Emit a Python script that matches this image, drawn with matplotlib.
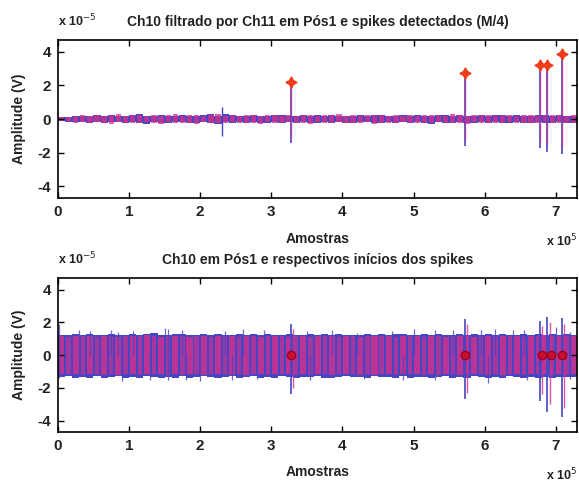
import numpy as np
import matplotlib
matplotlib.use("Agg")
import matplotlib.pyplot as plt

plt.rcParams['font.family'] = ['Liberation Sans', 'DejaVu Sans']
plt.rcParams['axes.unicode_minus'] = False

# envelope of each 1e4-sample segment (units of 1e-5 V), 73 segments
top_blue_hi = [0.12, 0.15, 0.18, 0.2, 0.16, 0.22, 0.18, 0.25, 0.2, 0.17, 0.22, 0.3, 0.18, 0.2, 0.24,
               0.19, 0.21, 0.26, 0.2, 0.18, 0.23, 0.28, 0.2, 0.3, 0.22, 0.18, 0.2, 0.25, 0.21, 0.19,
               0.22, 0.27, 0.2, 0.18, 0.24, 0.2, 0.22, 0.19, 0.25, 0.2, 0.18, 0.21, 0.24, 0.2, 0.26,
               0.22, 0.19, 0.2, 0.23, 0.21, 0.25, 0.2, 0.18, 0.22, 0.24, 0.2, 0.27, 0.21, 0.19, 0.23,
               0.2, 0.25, 0.22, 0.2, 0.24, 0.21, 0.19, 0.22, 0.26, 0.2, 0.23, 0.21, 0.2]
top_blue_lo = [-0.12, -0.16, -0.2, -0.18, -0.22, -0.17, -0.24, -0.2, -0.18, -0.25, -0.2, -0.22, -0.28, -0.19, -0.21,
               -0.24, -0.18, -0.2, -0.26, -0.21, -0.19, -0.23, -0.27, -0.2, -0.22, -0.18, -0.24, -0.2, -0.21, -0.25,
               -0.19, -0.22, -0.2, -0.26, -0.18, -0.23, -0.21, -0.2, -0.24, -0.19, -0.22, -0.25, -0.2, -0.18, -0.22,
               -0.26, -0.2, -0.23, -0.19, -0.24, -0.2, -0.22, -0.27, -0.19, -0.21, -0.24, -0.2, -0.22, -0.25, -0.19,
               -0.23, -0.2, -0.26, -0.21, -0.19, -0.24, -0.22, -0.2, -0.23, -0.25, -0.2, -0.22, -0.21]
top_mag_hi = [0.1, 0.12, 0.2, 0.22, 0.18, 0.26, 0.2, 0.22, 0.28, 0.19, 0.24, 0.22, 0.2, 0.27, 0.21,
              0.23, 0.3, 0.2, 0.24, 0.26, 0.2, 0.22, 0.28, 0.21, 0.25, 0.2, 0.23, 0.27, 0.2, 0.22,
              0.26, 0.21, 0.24, 0.2, 0.27, 0.22, 0.2, 0.25, 0.22, 0.28, 0.2, 0.23, 0.21, 0.26, 0.22,
              0.24, 0.2, 0.27, 0.21, 0.23, 0.2, 0.26, 0.22, 0.24, 0.2, 0.28, 0.22, 0.2, 0.25, 0.22,
              0.27, 0.2, 0.24, 0.26, 0.2, 0.23, 0.25, 0.21, 0.24, 0.22, 0.26, 0.2, 0.22]
top_mag_lo = [-0.1, -0.14, -0.22, -0.2, -0.25, -0.2, -0.22, -0.27, -0.2, -0.24, -0.22, -0.26, -0.2, -0.23, -0.28,
              -0.2, -0.22, -0.25, -0.21, -0.27, -0.2, -0.24, -0.22, -0.26, -0.2, -0.23, -0.21, -0.25, -0.28, -0.2,
              -0.22, -0.26, -0.2, -0.24, -0.21, -0.27, -0.2, -0.23, -0.25, -0.2, -0.26, -0.22, -0.24, -0.2, -0.27,
              -0.21, -0.23, -0.26, -0.2, -0.22, -0.25, -0.21, -0.24, -0.2, -0.26, -0.22, -0.23, -0.27, -0.2, -0.24,
              -0.21, -0.25, -0.22, -0.2, -0.26, -0.23, -0.21, -0.24, -0.2, -0.25, -0.22, -0.24, -0.21]

bot_blue_hi = [1.25, 1.2, 1.3, 1.22, 1.28, 1.2, 1.25, 1.3, 1.22, 1.24, 1.27, 1.2, 1.3, 1.35, 1.25,
               1.22, 1.3, 1.28, 1.2, 1.24, 1.27, 1.22, 1.3, 1.25, 1.2, 1.28, 1.24, 1.3, 1.22, 1.26,
               1.2, 1.25, 1.28, 1.22, 1.24, 1.3, 1.2, 1.26, 1.23, 1.28, 1.2, 1.25, 1.22, 1.27, 1.24,
               1.3, 1.21, 1.26, 1.28, 1.22, 1.25, 1.3, 1.2, 1.27, 1.24, 1.22, 1.28, 1.25, 1.3, 1.22,
               1.26, 1.24, 1.28, 1.2, 1.25, 1.3, 1.22, 1.27, 1.25, 1.3, 1.24, 1.28, 1.22]
bot_blue_lo = [-1.35, -1.3, -1.4, -1.32, -1.38, -1.3, -1.42, -1.35, -1.3, -1.38, -1.33, -1.4, -1.3, -1.36, -1.42,
               -1.32, -1.38, -1.3, -1.4, -1.35, -1.3, -1.37, -1.42, -1.33, -1.3, -1.38, -1.35, -1.3, -1.4, -1.34,
               -1.38, -1.3, -1.36, -1.4, -1.32, -1.35, -1.3, -1.38, -1.42, -1.33, -1.3, -1.37, -1.35, -1.4, -1.3,
               -1.36, -1.33, -1.4, -1.3, -1.38, -1.35, -1.32, -1.4, -1.36, -1.3, -1.38, -1.34, -1.4, -1.3, -1.37,
               -1.42, -1.33, -1.38, -1.3, -1.36, -1.4, -1.32, -1.38, -1.35, -1.4, -1.33, -1.37, -1.35]
bot_mag_hi = [1.15, 1.12, 1.18, 1.14, 1.16, 1.12, 1.18, 1.15, 1.13, 1.17, 1.14, 1.16, 1.2, 1.15, 1.12,
              1.17, 1.14, 1.18, 1.13, 1.16, 1.15, 1.12, 1.18, 1.14, 1.16, 1.13, 1.17, 1.15, 1.12, 1.18,
              1.14, 1.16, 1.12, 1.17, 1.15, 1.13, 1.18, 1.14, 1.16, 1.12, 1.17, 1.15, 1.13, 1.18, 1.14,
              1.16, 1.15, 1.12, 1.17, 1.14, 1.18, 1.13, 1.16, 1.15, 1.12, 1.18, 1.14, 1.16, 1.13, 1.17,
              1.15, 1.12, 1.18, 1.14, 1.16, 1.13, 1.17, 1.15, 1.2, 1.14, 1.18, 1.15, 1.16]
bot_mag_lo = [-1.15, -1.18, -1.13, -1.2, -1.16, -1.14, -1.19, -1.15, -1.22, -1.17, -1.14, -1.2, -1.16, -1.18, -1.13,
              -1.19, -1.15, -1.21, -1.17, -1.14, -1.2, -1.16, -1.18, -1.13, -1.19, -1.15, -1.22, -1.17, -1.14, -1.2,
              -1.16, -1.18, -1.13, -1.19, -1.15, -1.21, -1.17, -1.14, -1.2, -1.16, -1.18, -1.13, -1.19, -1.15, -1.22,
              -1.17, -1.14, -1.2, -1.16, -1.18, -1.13, -1.19, -1.15, -1.21, -1.17, -1.14, -1.2, -1.16, -1.18, -1.13,
              -1.19, -1.15, -1.22, -1.17, -1.14, -1.2, -1.16, -1.18, -1.13, -1.19, -1.15, -1.21, -1.17]

# ragged excursions of the raw signal (x in 1e5 samples, amplitude in 1e-5 V)
burr_x = [0.02, 0.3, 0.45, 0.75, 0.85, 1.05, 1.5, 1.55, 1.75, 2.35, 2.6, 2.9, 3.5, 3.85, 4.2, 4.7,
          5.0, 5.3, 5.55, 5.95, 6.15, 6.4, 6.55, 7.0, 7.2]
burr_hi = [1.9, 1.5, 1.45, 1.55, 1.4, 1.45, 1.65, 1.6, 1.5, 1.45, 1.6, 1.5, 1.45, 1.5, 1.35, 1.45,
           1.6, 1.55, 1.5, 1.55, 1.6, 1.55, 1.5, 1.7, 1.4]
burr_lo_x = [0.02, 0.9, 1.3, 1.55, 1.8, 2.0, 2.45, 2.8, 3.55, 4.3, 4.85, 5.3, 6.05, 6.6, 7.2]
burr_lo = [-1.4, -1.6, -1.5, -1.55, -1.5, -1.6, -1.55, -1.45, -1.5, -1.45, -1.5, -1.55, -1.7, -1.5, -1.45]

# detected spikes
spike_x = [3.28, 5.72, 6.78, 6.88, 7.08]
spike_peak_f = [2.2, 2.75, 3.2, 3.2, 3.85]
spike_trough_f = [-1.4, -1.6, -1.7, -1.95, -2.05]
spike_peak_raw = [1.9, 2.2, 2.1, 2.35, 2.25]
spike_trough_raw = [-2.4, -2.7, -2.8, -3.5, -3.8]
extra_x = [2.3]
extra_peak = [0.7]
extra_trough = [-1.0]
onset_x = [3.28, 5.72, 6.8, 6.93, 7.08]

blue = '#4646c4'
mag = '#d8308a'
dark = '#222222'
seg_w = 0.1
seg_x = np.arange(len(bot_blue_hi)) * seg_w + seg_w / 2

fig = plt.figure(figsize=(5.79, 4.87), dpi=100)
ax1 = fig.add_axes([0.100, 0.593, 0.897, 0.325])
ax2 = fig.add_axes([0.100, 0.113, 0.897, 0.316])


def style(ax, title):
    ax.set_xlim(0, 7.3)
    ax.set_ylim(-4.7, 4.7)
    ax.set_xticks(range(0, 8))
    ax.set_yticks([-4, -2, 0, 2, 4])
    ax.tick_params(direction='in', top=True, right=True, labelsize=11, length=4, width=1, pad=5)
    for lab in ax.get_xticklabels() + ax.get_yticklabels():
        lab.set_fontweight('bold')
        lab.set_color(dark)
    for s in ax.spines.values():
        s.set_linewidth(1.2)
    ax.set_title(title, fontsize=10, fontweight='bold', color=dark, pad=10)
    ax.set_xlabel('Amostras', fontsize=10, fontweight='bold', color=dark, labelpad=9)
    ax.set_ylabel('Amplitude (V)', fontsize=10, fontweight='bold', color=dark, labelpad=8)
    ax.annotate(r'x 10$^{-5}$', xy=(0, 1), xycoords='axes fraction', xytext=(0, 8),
                textcoords='offset points', fontsize=9, fontweight='bold', color=dark,
                va='bottom', ha='left')
    ax.annotate(r'x 10$^{5}$', xy=(0.94, 0), xycoords='axes fraction', xytext=(0, -25),
                textcoords='offset points', fontsize=9, fontweight='bold', color=dark,
                va='top', ha='left')


# top panel: filtered signal
ax1.bar(seg_x, np.array(top_blue_hi) - np.array(top_blue_lo), bottom=top_blue_lo,
        width=seg_w, color=blue, linewidth=0)
ax1.bar(seg_x, np.array(top_mag_hi) - np.array(top_mag_lo), bottom=top_mag_lo,
        width=seg_w * 0.75, color=mag, alpha=0.75, linewidth=0)
ax1.vlines(spike_x, spike_trough_f, spike_peak_f, colors=blue, linewidth=1.2)
ax1.vlines(spike_x, np.array(spike_trough_f) * 0.8, np.array(spike_peak_f) * 0.9,
           colors=mag, linewidth=1.0, alpha=0.7)
ax1.vlines(extra_x, extra_trough, extra_peak, colors=blue, linewidth=1.0)
ax1.plot(spike_x, spike_peak_f, linestyle='none', marker=(4, 1, 0), markersize=8,
         color='#ee3b1a', markeredgecolor='#ee3b1a')
style(ax1, 'Ch10 filtrado por Ch11 em Pós1 e spikes detectados (M/4)')

# bottom panel: raw signal and spike onsets
ax2.bar(seg_x, np.array(bot_blue_hi) - np.array(bot_blue_lo), bottom=bot_blue_lo,
        width=seg_w, color=blue, linewidth=0)
ax2.bar(seg_x[::2], (np.array(bot_mag_hi) - np.array(bot_mag_lo))[::2],
        bottom=np.array(bot_mag_lo)[::2], width=seg_w * 0.85, color=mag, alpha=0.8, linewidth=0)
ax2.bar(seg_x[1::2], (np.array(bot_mag_hi) - np.array(bot_mag_lo))[1::2],
        bottom=np.array(bot_mag_lo)[1::2], width=seg_w * 0.6, color=mag, alpha=0.65, linewidth=0)
ax2.vlines(burr_x, 0, burr_hi, colors=blue, linewidth=0.9, alpha=0.8)
ax2.vlines(burr_lo_x, burr_lo, 0, colors=blue, linewidth=0.9, alpha=0.8)
ax2.vlines(spike_x, spike_trough_raw, spike_peak_raw, colors=blue, linewidth=1.2)
ax2.vlines(np.array(spike_x) + 0.03, np.array(spike_trough_raw) * 0.85, np.array(spike_peak_raw) * 0.85,
           colors=mag, linewidth=1.0, alpha=0.8)
ax2.plot(onset_x, [0] * len(onset_x), linestyle='none', marker='o', markersize=6,
         color='#c8102e', markeredgecolor='#a00020')
style(ax2, 'Ch10 em Pós1 e respectivos inícios dos spikes')

fig.savefig('out.png', dpi=100)
